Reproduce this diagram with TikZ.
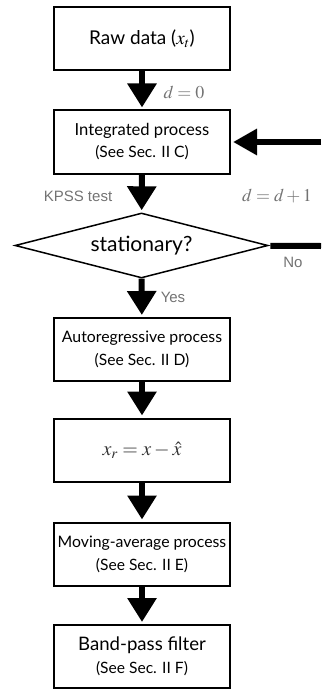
\documentclass[tikz,border=0pt]{standalone}
\usepackage{mathptmx}
\usepackage[no-math]{fontspec}
\setmainfont{Lato}
\newfontfamily\lblfont{Liberation Sans}
\usetikzlibrary{arrows.meta,shapes.geometric}

\tikzset{
  box/.style={draw, line width=2pt, minimum width=176pt, minimum height=63pt,
    align=center, inner sep=0pt},
  flow/.style={line width=6pt, -{Triangle[width=28pt,length=24pt]}, shorten >=2pt},
  lbl/.style={text=black!55, font=\lblfont\fontsize{15}{18}\selectfont},
  mlbl/.style={text=black!55, font=\fontsize{18}{21}\selectfont},
}
\newcommand{\subref}[1]{{\fontsize{15.6}{23}\selectfont (See Sec. II #1)}}

\begin{document}
\begin{tikzpicture}[x=1pt,y=-1pt]
        \useasboundingbox (0,0) rectangle (321,690);

        %% boxes
        \node[box, font=\fontsize{19}{23}\selectfont] (raw) at (142,38.5) {Raw data ($x_t$)};
        \node[box, font=\fontsize{16.6}{22}\selectfont] (integ) at (142,142) {Integrated process\\\subref{C}};
        \node[draw, diamond, aspect=3.9, line width=1.5pt, minimum width=253pt,
              minimum height=65pt, inner sep=0pt, font=\fontsize{21}{24}\selectfont]
              (stat) at (141.5,245.5) {stationary?};
        \node[box, font=\fontsize{15.8}{23}\selectfont] (autoreg) at (142,349.5) {Autoregressive process\\\subref{D}};
        \node[box, font=\fontsize{20}{24}\selectfont, text=black!80] (resid) at (142,450) {$x_r = x - \hat{x}$};
        \node[box, font=\fontsize{15.8}{23}\selectfont] (movavg) at (142,554) {Moving-average process\\\subref{E}};
        \node[box, font=\fontsize{18.6}{23}\selectfont] (bandpass) at (142,656.5) {Band-pass filter\\\subref{F}};

        %% main flow
        \draw[flow] (raw) -- (integ);
        \draw[flow] (integ) -- (stat);
        \draw[flow] (stat) -- (autoreg);
        \draw[flow] (autoreg) -- (resid);
        \draw[flow] (resid) -- (movavg);
        \draw[flow] (movavg) -- (bandpass);

        %% loop back
        \coordinate (back) at (321,142);
        \coordinate (noend) at (321,246);
        \draw[line width=6pt, -{Triangle[width=25pt,length=24pt]}, shorten >=2pt] (back) -- (integ);
        \draw[line width=6pt, shorten <=3pt] (stat) -- (noend);

        %% labels
        \node[mlbl] (dzero) at (184,92) {$d=0$};
        \node[lbl] (kpss) at (78,196) {KPSS test};
        \node[mlbl] (dinc) at (277,196) {$d=d+1$};
        \node[lbl] (no) at (293,262) {No};
        \node[lbl] (yes) at (173,297) {Yes};
\end{tikzpicture}
\end{document}
